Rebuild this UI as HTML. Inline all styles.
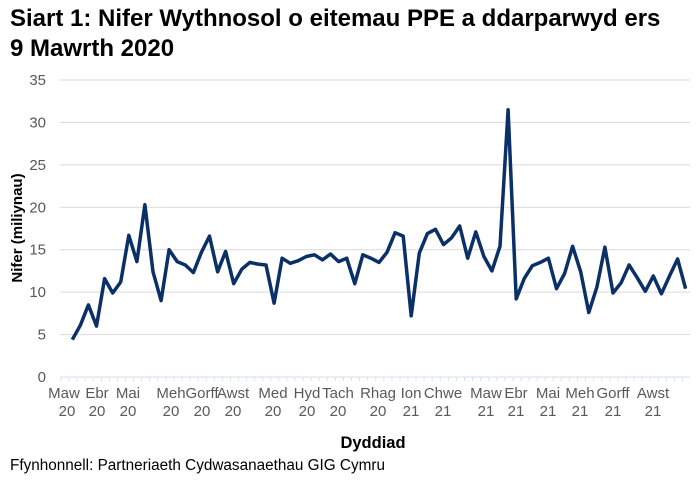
<!DOCTYPE html>
<html><head><meta charset="utf-8"><style>
body{margin:0;background:#fff;}
svg{display:block;font-family:"Liberation Sans",Arial,sans-serif;}
</style></head><body>
<svg width="700" height="481" viewBox="0 0 700 481">
<text x="10" y="26" font-size="24" font-weight="bold" fill="#000">Siart 1: Nifer Wythnosol o eitemau PPE a ddarparwyd ers</text>
<text x="10" y="56" font-size="24" font-weight="bold" fill="#000">9 Mawrth 2020</text>
<g stroke="#d9d9d9" stroke-width="1">
<line x1="60" y1="80" x2="690" y2="80"/><line x1="60" y1="122.4" x2="690" y2="122.4"/>
<line x1="60" y1="164.9" x2="690" y2="164.9"/><line x1="60" y1="207.3" x2="690" y2="207.3"/>
<line x1="60" y1="249.7" x2="690" y2="249.7"/><line x1="60" y1="292.1" x2="690" y2="292.1"/>
<line x1="60" y1="334.6" x2="690" y2="334.6"/>
</g>
<line x1="60" y1="377" x2="690" y2="377" stroke="#d6e2f0" stroke-width="1"/>
<line x1="60.5" y1="379" x2="690" y2="379" stroke="#d6e2f0" stroke-width="4" stroke-dasharray="1 7.07"/>
<g font-size="15" fill="#595959" text-anchor="end">
<text x="46" y="85">35</text><text x="46" y="127.4">30</text><text x="46" y="169.9">25</text>
<text x="46" y="212.3">20</text><text x="46" y="254.7">15</text><text x="46" y="297.1">10</text>
<text x="46" y="339.6">5</text><text x="46" y="382">0</text>
</g>
<g font-size="15" fill="#595959" text-anchor="middle">
<text x="64" y="398">Maw</text><text x="67" y="416">20</text>
<text x="97" y="398">Ebr</text><text x="97" y="416">20</text>
<text x="128" y="398">Mai</text><text x="128" y="416">20</text>
<text x="171" y="398">Meh</text><text x="171" y="416">20</text>
<text x="202" y="398">Gorff</text><text x="202" y="416">20</text>
<text x="233" y="398">Awst</text><text x="233" y="416">20</text>
<text x="273" y="398">Med</text><text x="273" y="416">20</text>
<text x="307" y="398">Hyd</text><text x="307" y="416">20</text>
<text x="338" y="398">Tach</text><text x="338" y="416">20</text>
<text x="378" y="398">Rhag</text><text x="378" y="416">20</text>
<text x="411" y="398">Ion</text><text x="411" y="416">21</text>
<text x="443" y="398">Chwe</text><text x="443" y="416">21</text>
<text x="486" y="398">Maw</text><text x="486" y="416">21</text>
<text x="516" y="398">Ebr</text><text x="516" y="416">21</text>
<text x="548" y="398">Mai</text><text x="548" y="416">21</text>
<text x="580" y="398">Meh</text><text x="580" y="416">21</text>
<text x="613" y="398">Gorff</text><text x="613" y="416">21</text>
<text x="653" y="398">Awst</text><text x="653" y="416">21</text>
</g>
<text x="373" y="448" font-size="16.5" font-weight="bold" text-anchor="middle" fill="#000">Dyddiad</text>
<text transform="translate(22,228) rotate(-90)" font-size="15" font-weight="bold" text-anchor="middle" fill="#000">Nifer (miliynau)</text>
<text x="10" y="470" font-size="15.3" fill="#000">Ffynhonnell: Partneriaeth Cydwasanaethau GIG Cymru</text>
<polyline fill="none" stroke="#0b3067" stroke-width="3.5" stroke-linejoin="round" points="72.3,339.7 80.4,325.2 88.4,304.9 96.5,326.1 104.6,278.6 112.7,293.0 120.7,282.0 128.8,235.3 136.9,261.6 144.9,204.7 153.0,271.8 161.1,300.6 169.1,249.7 177.2,261.6 185.3,265.0 193.4,272.6 201.4,252.3 209.5,236.1 217.6,271.8 225.6,251.4 233.7,283.7 241.8,269.2 249.8,262.4 257.9,264.1 266.0,265.0 274.1,303.2 282.1,258.2 290.2,263.3 298.3,260.7 306.3,256.5 314.4,254.8 322.5,259.9 330.5,254.0 338.6,261.6 346.7,258.2 354.8,283.7 362.8,254.8 370.9,258.2 379.0,262.4 387.0,252.3 395.1,232.7 403.2,236.1 411.2,315.9 419.3,253.1 427.4,233.6 435.5,229.3 443.5,244.6 451.6,237.8 459.7,226.0 467.7,258.2 475.8,231.9 483.9,256.5 491.9,270.9 500.0,246.3 508.1,109.7 516.2,298.9 524.2,278.6 532.3,265.8 540.4,262.4 548.4,258.2 556.5,288.7 564.6,273.5 572.6,246.3 580.7,271.8 588.8,312.5 596.9,287.0 604.9,247.2 613.0,293.0 621.1,282.8 629.1,265.0 637.2,277.7 645.3,291.3 653.3,276.0 661.4,293.8 669.5,276.0 677.6,259.0 685.6,288.7"/>
</svg>
</body></html>
